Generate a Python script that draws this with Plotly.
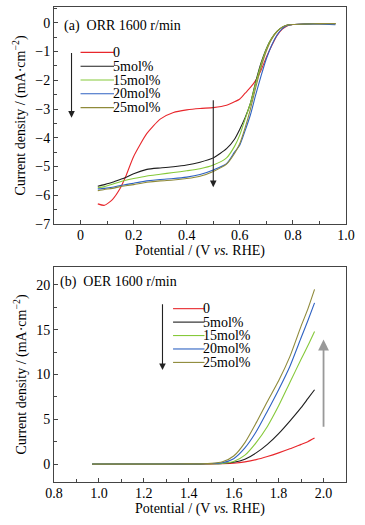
import plotly.graph_objects as go

# ---------------- data: ORR (a) ----------------
orr_potential = [0.065, 0.09, 0.12, 0.15, 0.17, 0.20, 0.25, 0.30, 0.35, 0.40, 0.45, 0.50,
                 0.55, 0.58, 0.60, 0.62, 0.64, 0.66, 0.68, 0.70, 0.72, 0.74, 0.76, 0.78,
                 0.80, 0.85, 0.90, 0.96]
orr_0 = [-6.30, -6.35, -6.15, -5.75, -5.35, -4.65, -3.85, -3.35, -3.12, -3.03, -2.98, -2.95,
         -2.87, -2.75, -2.65, -2.45, -2.25, -2.00, -1.65, -1.20, -0.80, -0.45, -0.22, -0.10,
         -0.06, -0.04, -0.03, -0.03]
orr_5 = [-5.69, -5.63, -5.55, -5.45, -5.38, -5.25, -5.10, -5.05, -5.01, -4.95, -4.85, -4.70,
         -4.38, -4.05, -3.70, -3.30, -2.80, -2.05, -1.40, -0.90, -0.54, -0.30, -0.15, -0.08,
         -0.06, -0.04, -0.03, -0.03]
orr_15 = [-5.74, -5.70, -5.62, -5.53, -5.48, -5.42, -5.33, -5.27, -5.21, -5.15, -5.08, -4.95,
          -4.70, -4.30, -3.90, -3.35, -2.80, -2.10, -1.45, -0.92, -0.54, -0.30, -0.15, -0.08,
          -0.06, -0.04, -0.03, -0.03]
orr_20 = [-5.78, -5.76, -5.72, -5.66, -5.63, -5.58, -5.50, -5.45, -5.42, -5.37, -5.28, -5.12,
          -4.90, -4.50, -4.25, -3.75, -3.20, -2.50, -1.85, -1.25, -0.78, -0.43, -0.20, -0.09,
          -0.06, -0.04, -0.04, -0.07]
orr_25 = [-5.84, -5.80, -5.76, -5.70, -5.67, -5.63, -5.55, -5.50, -5.47, -5.42, -5.34, -5.17,
          -4.92, -4.55, -4.20, -3.65, -3.00, -2.25, -1.55, -0.98, -0.57, -0.31, -0.15, -0.08,
          -0.06, -0.04, -0.03, -0.03]

# ---------------- data: OER (b) ----------------
oer_potential = [0.97, 1.10, 1.20, 1.30, 1.40, 1.45, 1.50, 1.55, 1.60, 1.65, 1.70, 1.75,
                 1.80, 1.85, 1.90, 1.93, 1.96]
oer_0 = [-0.05, -0.03, -0.02, -0.01, 0.0, 0.0, 0.02, 0.05, 0.10, 0.25, 0.50, 0.85,
         1.25, 1.70, 2.20, 2.50, 2.90]
oer_5 = [0.0, 0.0, 0.0, 0.0, 0.01, 0.02, 0.04, 0.08, 0.20, 0.55, 1.25, 2.20,
         3.40, 4.80, 6.30, 7.30, 8.30]
oer_15 = [0.0, 0.0, 0.0, 0.0, 0.01, 0.02, 0.04, 0.08, 0.30, 1.00, 2.40, 4.20,
          6.50, 9.10, 11.70, 13.20, 14.80]
oer_20 = [0.0, 0.0, 0.0, 0.0, 0.01, 0.03, 0.06, 0.15, 0.60, 1.80, 3.60, 5.90,
          8.30, 10.90, 14.10, 16.00, 18.00]
oer_25 = [0.0, 0.0, 0.0, 0.0, 0.02, 0.04, 0.08, 0.25, 0.90, 2.40, 4.60, 7.00,
          9.30, 12.00, 15.40, 17.30, 19.50]

series_names = ["0", "5mol%", "15mol%", "20mol%", "25mol%"]
series_colors = ["#e8272c", "#1e1e1e", "#86c93a", "#2f62c2", "#8f8a3a"]

orr_series = [orr_0, orr_5, orr_15, orr_20, orr_25]
oer_series = [oer_0, oer_5, oer_15, oer_20, oer_25]

# legend placement (data coordinates of each panel)
orr_leg_x = [0.0, 0.126]
orr_leg_y = [-1.03, -1.51, -1.99, -2.47, -2.95]
oer_leg_x = [1.33, 1.47]
oer_leg_y = [17.35, 15.85, 14.35, 12.85, 11.35]

FONT = "Liberation Serif, Times New Roman, serif"
AX = "#444444"
FS = 14

fig = go.Figure()

for name, col, ys in zip(series_names, series_colors, orr_series):
    fig.add_trace(go.Scatter(x=orr_potential, y=ys, mode="lines", name=name,
                             line=dict(color=col, width=1.1, shape="spline", smoothing=0.6),
                             showlegend=False, xaxis="x", yaxis="y"))
for name, col, ys in zip(series_names, series_colors, oer_series):
    fig.add_trace(go.Scatter(x=oer_potential, y=ys, mode="lines", name=name,
                             line=dict(color=col, width=1.1, shape="spline", smoothing=0.6),
                             showlegend=False, xaxis="x2", yaxis="y2"))

annotations = []
# manual legends
for name, col, ly in zip(series_names, series_colors, orr_leg_y):
    fig.add_trace(go.Scatter(x=orr_leg_x, y=[ly, ly], mode="lines",
                             line=dict(color=col, width=1.1), showlegend=False,
                             hoverinfo="skip", xaxis="x", yaxis="y"))
    annotations.append(dict(x=orr_leg_x[1], y=ly, xref="x", yref="y", text=name,
                            showarrow=False, xanchor="left", yanchor="middle", xshift=-2,
                            borderpad=0,
                            font=dict(family=FONT, size=FS, color="black")))
for name, col, ly in zip(series_names, series_colors, oer_leg_y):
    fig.add_trace(go.Scatter(x=oer_leg_x, y=[ly, ly], mode="lines",
                             line=dict(color=col, width=1.1), showlegend=False,
                             hoverinfo="skip", xaxis="x2", yaxis="y2"))
    annotations.append(dict(x=oer_leg_x[1], y=ly, xref="x2", yref="y2", text=name,
                            showarrow=False, xanchor="left", yanchor="middle", xshift=-2,
                            borderpad=0,
                            font=dict(family=FONT, size=FS, color="black")))

# panel labels
annotations.append(dict(x=-0.068, y=-0.12, xref="x", yref="y", text="(a)  ORR 1600 r/min",
                        showarrow=False, xanchor="left", yanchor="middle",
                        font=dict(family=FONT, size=FS, color="black")))
annotations.append(dict(x=0.82, y=20.3, xref="x2", yref="y2", text="(b)  OER 1600 r/min",
                        showarrow=False, xanchor="left", yanchor="middle",
                        font=dict(family=FONT, size=FS, color="black")))

# arrows
def arrow(x0, y0, x1, y1, xr, yr, color="#222222", width=1.1):
    return dict(x=x1, y=y1, ax=x0, ay=y0, xref=xr, yref=yr, axref=xr, ayref=yr,
                text="", showarrow=True, arrowhead=2, arrowsize=1.2, arrowwidth=width,
                arrowcolor=color)

annotations.append(arrow(-0.034, -1.0, -0.034, -3.3, "x", "y"))
annotations.append(arrow(0.50, -2.64, 0.50, -5.72, "x", "y"))
annotations.append(arrow(1.283, 18.0, 1.283, 10.5, "x2", "y2"))
annotations.append(arrow(2.0, 4.0, 2.0, 13.9, "x2", "y2", color="#999999", width=1.8))

axis_common = dict(showline=True, linecolor=AX, linewidth=1, mirror=True,
                   ticks="inside", ticklen=4, tickcolor=AX, showgrid=False, zeroline=False,
                   tickfont=dict(family=FONT, size=FS, color="black"),
                   title_font=dict(family=FONT, size=FS, color="black"))

xtitle = "Potential / (V <i>vs.</i> RHE)"
ytitle = "Current density / (mA·cm<sup>−2</sup>)"

fig.update_layout(
    width=365, height=525,
    margin=dict(l=54, r=19, t=7, b=43),
    paper_bgcolor="white", plot_bgcolor="white",
    showlegend=False,
    xaxis=dict(domain=[0, 1], anchor="y", range=[-0.1, 1.0], tickvals=[0, 0.2, 0.4, 0.6, 0.8, 1.0],
               ticktext=["0", "0.2", "0.4", "0.6", "0.8", "1.0"], ticklabelstandoff=-2,
               minor=dict(dtick=0.1, tick0=0, ticks="inside", ticklen=3, tickcolor=AX),
               title=dict(text=xtitle, standoff=0), **axis_common),
    yaxis=dict(domain=[0.5432, 1.0], anchor="x", range=[-7, 0.55], dtick=1, tick0=0,
               minor=dict(dtick=0.5, tick0=0, ticks="inside", ticklen=3, tickcolor=AX),
               title=dict(text=ytitle, standoff=6), **axis_common),
    xaxis2=dict(domain=[0, 1], anchor="y2", range=[0.8, 2.1], tickvals=[0.8, 1.0, 1.2, 1.4, 1.6, 1.8, 2.0],
                ticktext=["0.8", "1.0", "1.2", "1.4", "1.6", "1.8", "2.0"], ticklabelstandoff=-2,
                minor=dict(dtick=0.1, tick0=0.8, ticks="inside", ticklen=3, tickcolor=AX),
                title=dict(text=xtitle, standoff=0), **axis_common),
    yaxis2=dict(domain=[0, 0.4526], anchor="x2", range=[-2, 22], dtick=5, tick0=0,
                minor=dict(dtick=2.5, tick0=0, ticks="inside", ticklen=3, tickcolor=AX),
                title=dict(text=ytitle, standoff=6), **axis_common),
    annotations=annotations,
)

fig.write_html("out.html", config={"displayModeBar": False},
               post_script="document.body.style.margin='0';")
